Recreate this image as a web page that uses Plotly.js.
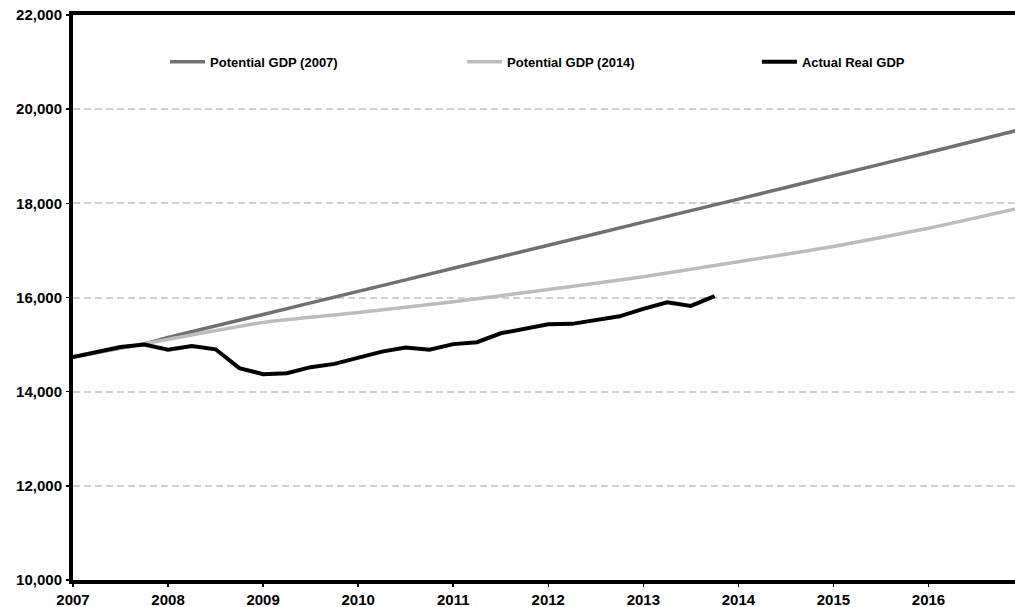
<!DOCTYPE html>
<html><head><meta charset="utf-8">
<script src="https://cdn.plot.ly/plotly-3.0.1.min.js"></script>
<style>html,body{margin:0;padding:0;background:#fff;}#chart{width:1015px;height:607px;}</style>
</head><body><div id="chart"></div>
<script>
// Actual real GDP, quarterly (billions of chained dollars)
const actualYears = [2007.00, 2007.25, 2007.50, 2007.75, 2008.00, 2008.25, 2008.50, 2008.75,
  2009.00, 2009.25, 2009.50, 2009.75, 2010.00, 2010.25, 2010.50, 2010.75,
  2011.00, 2011.25, 2011.50, 2011.75, 2012.00, 2012.25, 2012.50, 2012.75,
  2013.00, 2013.25, 2013.50, 2013.75];
const actualGDP = [14735, 14850, 14950, 15000, 14890, 14970, 14900, 14500,
  14370, 14390, 14520, 14590, 14730, 14850, 14940, 14890,
  15010, 15050, 15240, 15340, 15430, 15440, 15520, 15600,
  15760, 15900, 15820, 16030];

// Potential GDP estimates
const potentialYears = [2007, 2007.75, 2008, 2009, 2010, 2011, 2012, 2013, 2014, 2015, 2016, 2017];
const potential2007 = [14735, 15020, 15150, 15640, 16130, 16620, 17110, 17600, 18090, 18585, 19080, 19585];
const potential2014 = [14735, 15020, 15110, 15470, 15680, 15910, 16170, 16440, 16760, 17085, 17470, 17920];

const yearTicks = [2007, 2008, 2009, 2010, 2011, 2012, 2013, 2014, 2015, 2016];
const yearLabels = ['2007', '2008', '2009', '2010', '2011', '2012', '2013', '2014', '2015', '2016'];
const valueTicks = [10000, 12000, 14000, 16000, 18000, 20000, 22000];
const valueLabels = ['10,000', '12,000', '14,000', '16,000', '18,000', '20,000', '22,000'];

const seriesNames = ['Potential GDP (2007)', 'Potential GDP (2014)', 'Actual Real GDP'];

const FONT = 'Liberation Sans, Arial, Helvetica, sans-serif';

const traces = [
  { x: potentialYears, y: potential2007, name: seriesNames[0], type: 'scatter', mode: 'lines', legend: 'legend',
    line: { color: '#707070', width: 3.5, shape: 'spline', smoothing: 0.6 } },
  { x: potentialYears, y: potential2014, name: seriesNames[1], type: 'scatter', mode: 'lines', legend: 'legend2',
    line: { color: '#bcbcbc', width: 3.5, shape: 'spline', smoothing: 0.6 } },
  { x: actualYears, y: actualGDP, name: seriesNames[2], type: 'scatter', mode: 'lines', legend: 'legend3',
    line: { color: '#000000', width: 4 } }
];

function legendAt(xFrac) {
  return {
    orientation: 'h', x: xFrac, xanchor: 'left', y: 0.917, yanchor: 'middle',
    bgcolor: 'rgba(0,0,0,0)', borderwidth: 0, itemwidth: 35,
    font: { family: FONT, size: 13, color: '#000000', weight: 'bold' }
  };
}

const layout = {
  width: 1015, height: 607,
  margin: { l: 73, r: 0, t: 15, b: 27, pad: 0 },
  paper_bgcolor: '#ffffff', plot_bgcolor: '#ffffff',
  font: { family: FONT, color: '#000000', size: 13, weight: 'bold' },
  showlegend: true,
  legend: legendAt(0.0977),
  legend2: legendAt(0.413),
  legend3: legendAt(0.726),
  xaxis: {
    range: [2007, 2016.91], tickvals: yearTicks, ticktext: yearLabels,
    showgrid: false, zeroline: false,
    showline: true, linecolor: '#000000', linewidth: 4, mirror: true,
    ticks: 'outside', ticklen: 3, tickwidth: 1.5, tickcolor: '#000000',
    tickfont: { family: FONT, size: 15, color: '#000000', weight: 'bold' },
    ticklabelstandoff: 0, fixedrange: true
  },
  yaxis: {
    range: [10000, 22000], tickvals: valueTicks, ticktext: valueLabels,
    showgrid: true, gridcolor: '#d0d0d0', gridwidth: 2, griddash: '7px,4px',
    zeroline: false,
    showline: true, linecolor: '#000000', linewidth: 4, mirror: false,
    ticks: 'outside', ticklen: 3, tickwidth: 1.5, tickcolor: '#000000',
    tickfont: { family: FONT, size: 15, color: '#000000', weight: 'bold' },
    ticklabelstandoff: 1, fixedrange: true
  }
};

Plotly.newPlot('chart', traces, layout, { displayModeBar: false, staticPlot: true });
</script>
</body></html>
